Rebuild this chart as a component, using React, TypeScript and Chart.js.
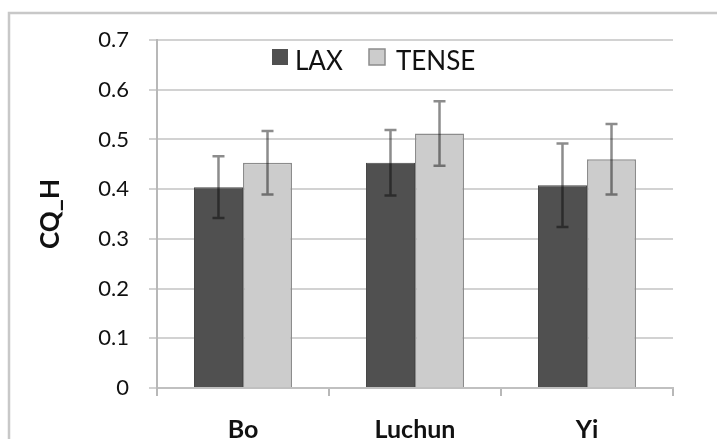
import React, { useEffect, useRef } from "react";
import { Chart, registerables } from "chart.js";

Chart.register(...registerables);

const categories = ["Bo", "Luchun", "Yi"];
const seriesNames = ["LAX", "TENSE"];
const laxValues = [0.404, 0.453, 0.408];
const laxErrors = [0.062, 0.066, 0.084];
const tenseValues = [0.453, 0.512, 0.46];
const tenseErrors = [0.064, 0.065, 0.071];
const yTicks = [0, 0.1, 0.2, 0.3, 0.4, 0.5, 0.6, 0.7];
const yTitle = "CQ_H";

const FONT = "Lato, 'Open Sans', sans-serif";

const framePlugin = {
  id: "frame",
  beforeDraw(chart: any) {
    const ctx = chart.ctx;
    ctx.save();
    ctx.strokeStyle = "#c8c8c8";
    ctx.lineWidth = 2.5;
    ctx.strokeRect(9, 13, chart.width + 40, chart.height + 40);
    ctx.restore();
  },
};

const errorBarPlugin = {
  id: "errorBars",
  afterDatasetsDraw(chart: any) {
    const ctx = chart.ctx;
    const yScale = chart.scales.y;
    ctx.save();
    ctx.strokeStyle = "rgba(0,0,0,0.45)";
    ctx.lineWidth = 2.5;
    chart.data.datasets.forEach((ds: any, i: number) => {
      const meta = chart.getDatasetMeta(i);
      meta.data.forEach((el: any, j: number) => {
        const v = ds.data[j];
        const e = ds.errors[j];
        const x = el.x;
        const yt = yScale.getPixelForValue(v + e);
        const yb = yScale.getPixelForValue(v - e);
        const cw = 6;
        ctx.beginPath();
        ctx.moveTo(x, yt);
        ctx.lineTo(x, yb);
        ctx.moveTo(x - cw, yt);
        ctx.lineTo(x + cw, yt);
        ctx.moveTo(x - cw, yb);
        ctx.lineTo(x + cw, yb);
        ctx.stroke();
      });
    });
    ctx.restore();
  },
};

const legendPlugin = {
  id: "customLegend",
  afterDraw(chart: any) {
    const ctx = chart.ctx;
    ctx.save();
    const items = [
      { box: 272, text: 295 },
      { box: 369, text: 396 },
    ];
    ctx.font = `26px ${FONT}`;
    ctx.textBaseline = "alphabetic";
    chart.data.datasets.forEach((ds: any, i: number) => {
      const it = items[i];
      ctx.fillStyle = ds.backgroundColor;
      ctx.fillRect(it.box, 49, 16, 16);
      if (i === 1) {
        ctx.strokeStyle = ds.borderColor;
        ctx.lineWidth = 1.5;
        ctx.strokeRect(it.box, 49, 16, 16);
      }
      ctx.fillStyle = "#111";
      ctx.fillText(ds.label, it.text, 70);
    });
    ctx.restore();
  },
};

export default function App() {
  const ref = useRef<HTMLCanvasElement | null>(null);

  useEffect(() => {
    if (!ref.current) return;
    const chart = new Chart(ref.current, {
      type: "bar",
      data: {
        labels: categories,
        datasets: [
          {
            label: seriesNames[0],
            data: laxValues,
            errors: laxErrors,
            backgroundColor: "#505050",
            borderColor: "#474747",
            borderWidth: 1,
          } as any,
          {
            label: seriesNames[1],
            data: tenseValues,
            errors: tenseErrors,
            backgroundColor: "#cccccc",
            borderColor: "#8c8c8c",
            borderWidth: 1.5,
          } as any,
        ],
      },
      options: {
        responsive: false,
        animation: false,
        layout: { padding: { top: 40, right: 44, left: 0, bottom: 0 } },
        datasets: {
          bar: { categoryPercentage: 0.57, barPercentage: 1.0 },
        },
        plugins: {
          legend: { display: false },
          tooltip: { enabled: false },
        },
        scales: {
          x: {
            grid: {
              display: true,
              drawOnChartArea: false,
              drawTicks: true,
              tickLength: 8,
              offset: true,
              color: "#b8b8b8",
              lineWidth: 2,
            },
            border: { display: true, color: "#c0c0c0", width: 2 },
            ticks: {
              color: "#111",
              padding: 19,
              font: { family: FONT, size: 25, weight: "bold" },
            },
            afterFit(scale: any) {
              scale.height = 51;
            },
          },
          y: {
            min: 0,
            max: 0.7,
            afterBuildTicks(scale: any) {
              scale.ticks = yTicks.map((v) => ({ value: v }));
            },
            grid: {
              color: "#d2d2d2",
              lineWidth: 2,
              drawTicks: true,
              tickLength: 8,
            },
            border: { display: true, color: "#b8b8b8", width: 2 },
            ticks: {
              color: "#111",
              padding: 20,
              font: { family: FONT, size: 22 },
              callback: (v: any) => String(Math.round(Number(v) * 10) / 10),
            },
            title: {
              display: true,
              text: yTitle,
              color: "#111",
              font: { family: FONT, size: 26, weight: "bold" },
              padding: { top: 35, bottom: 0 },
            },
            afterFit(scale: any) {
              scale.width = 157;
            },
          },
        },
      } as any,
      plugins: [framePlugin, errorBarPlugin, legendPlugin],
    });
    return () => chart.destroy();
  }, []);

  return (
    <div style={{ position: "absolute", left: 0, top: 0, width: 717, height: 439, background: "#fff" }}>
      <canvas ref={ref} width={717} height={439} style={{ display: "block" }} />
    </div>
  );
}
